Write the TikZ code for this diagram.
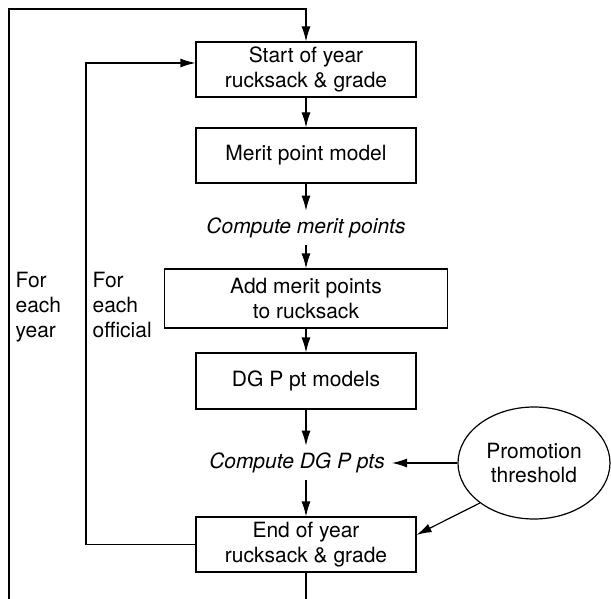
\documentclass[tikz,border=0pt]{standalone}
\usepackage{fontspec}
\setmainfont{TeX Gyre Heros}
\usetikzlibrary{shapes, arrows.meta}

\begin{document}
\begin{tikzpicture}[
    x=0.5pt, y=-0.5pt,
    font=\fontsize{10.5pt}{12.4pt}\selectfont,
    line width=0.6pt,
    >={Latex[length=7.5pt, width=4.5pt]},
    block/.style={rectangle, draw=black, fill=none, text centered, align=center,
        minimum width=110pt, minimum height=27.5pt, inner sep=0pt, text=black},
    note/.style={rectangle, draw=none, fill=none, text centered, text=black, font=\fontsize{10.5pt}{12.4pt}\selectfont\itshape},
    source/.style={ellipse, draw=black, fill=none, text centered, align=center,
        minimum width=76pt, minimum height=56pt, inner sep=0pt, text=black},
    loopnote/.style={rectangle, draw=none, fill=none, align=left, anchor=north west,
        inner sep=0pt, text=black}
]
\useasboundingbox (0,0) rectangle (611,599);

\node (Start01) [block] at (306,69.5) {Start of year\\rucksack \& grade};
\node (Merit02) [block] at (306,155.5) {Merit point model};
\node (Txt03) [note] at (306,228) {Compute merit points};
\node (Add04) [block, minimum width=141.5pt, minimum height=29.5pt] at (306,298.5) {Add merit points\\to rucksack};
\node (DG05) [block, minimum height=28pt] at (306,381) {DG P pt models};
\node (Txt06) [note] at (297,463) {Compute DG P pts};
\node (Ell07) [source] at (534,463) {Promotion\\threshold};
\node (End08) [block] at (306,544.5) {End of year\\rucksack \& grade};

\node (Year09) [loopnote] at (15,272) {For\\each\\year};
\node (Off10) [loopnote] at (92,272) {For\\each\\official};

\coordinate (OutBot) at (306,599);
\coordinate (OutLeft) at (9,599);
\coordinate (OutTop) at (9,9);
\coordinate (InTop) at (86,63);

% main chain
\draw[->] (Start01) -- (Merit02);
\draw[->] (Merit02) -- (Txt03);
\draw[->] (Txt03) -- (Add04);
\draw[->] (Add04) -- (DG05);
\draw[->] (DG05.south) -- (DG05.south |- Txt06.north);
\draw[->] (Txt06.south -| End08.north) -- (End08.north);

% threshold
\draw[->] (Ell07.west) -- (Txt06.east);
\draw[->] (Ell07.south west) -- (End08.5);

% loops
\draw[->] (End08.west) -| (InTop) -- (InTop -| Start01.west);
\draw (End08.south) -- (OutBot);
\draw[->] (OutLeft) -- (OutTop) -| (Start01.north);

\end{tikzpicture}
\end{document}
